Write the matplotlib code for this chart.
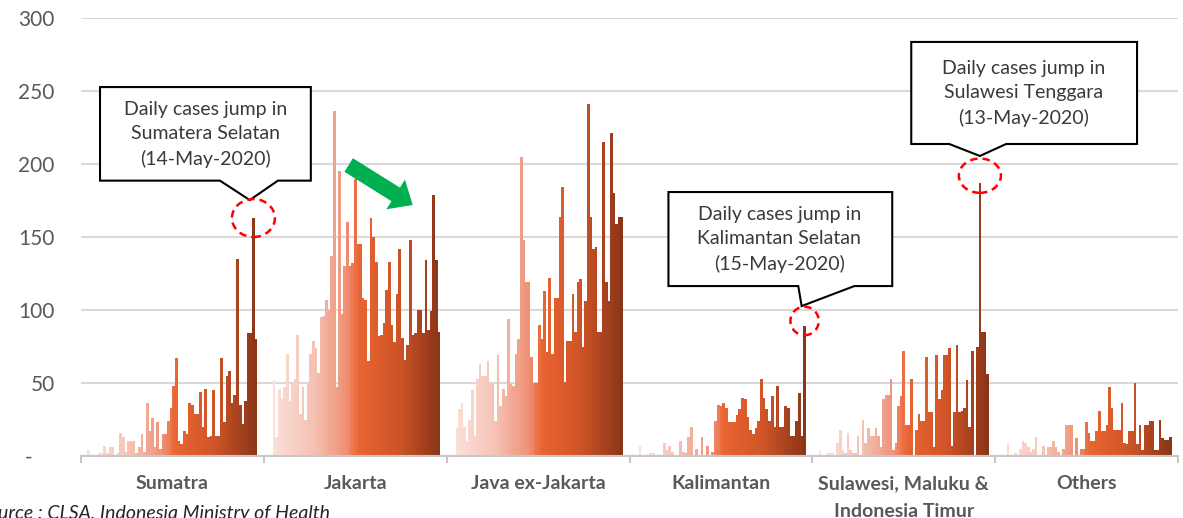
import numpy as np
import matplotlib.pyplot as plt
from matplotlib.colors import LinearSegmentedColormap
from matplotlib.patches import Ellipse, Polygon, FancyArrowPatch, ArrowStyle

plt.rcParams['font.family'] = ['Lato', 'DejaVu Sans']

# daily new cases per region
regions = ['Sumatra', 'Jakarta', 'Java ex-Jakarta', 'Kalimantan',
           'Sulawesi, Maluku &\nIndonesia Timur', 'Others']

sumatra = [4, 0, 0, 0, 2, 2, 7, 2, 6, 6, 1, 2, 16, 13, 3, 10, 10, 10, 2, 6,
           15, 3, 36, 17, 26, 6, 23, 5, 15, 15, 24, 33, 48, 67, 10, 8, 17, 15, 36, 35,
           29, 29, 44, 20, 46, 13, 14, 45, 14, 14, 67, 23, 55, 58, 36, 42, 135, 35, 22, 38,
           84, 84, 163, 80]
jakarta = [0, 52, 13, 46, 39, 47, 70, 38, 49, 53, 83, 29, 47, 25, 49, 70, 79, 74, 57, 95,
           96, 107, 100, 137, 236, 47, 195, 97, 130, 160, 130, 132, 190, 145, 145, 108, 107, 65, 163, 150,
           133, 82, 83, 91, 114, 133, 90, 78, 111, 142, 81, 66, 76, 148, 83, 84, 100, 100, 84, 134,
           86, 99, 179, 134, 85]
java = [0, 19, 32, 36, 20, 10, 25, 45, 14, 53, 63, 55, 55, 65, 50, 50, 24, 69, 34, 46,
        41, 94, 49, 48, 70, 80, 205, 148, 119, 119, 68, 50, 50, 90, 80, 113, 71, 122, 70, 108,
        108, 164, 184, 51, 79, 79, 111, 85, 119, 121, 75, 106, 241, 164, 142, 143, 85, 85, 215, 119,
        106, 221, 180, 159, 164, 164]
kalimantan = [0, 7, 0, 0, 1, 2, 2, 1, 0, 0, 9, 4, 7, 3, 1, 0, 10, 3, 2, 13,
              20, 1, 5, 1, 13, 1, 7, 1, 3, 24, 35, 34, 36, 33, 23, 23, 23, 28, 32, 40,
              39, 27, 18, 15, 19, 24, 53, 40, 32, 24, 41, 20, 48, 20, 20, 34, 33, 14, 14, 24,
              43, 14, 89]
sulawesi = [4, 0, 0, 2, 2, 2, 0, 9, 18, 4, 2, 16, 4, 2, 2, 14, 0, 25, 9, 19,
            14, 14, 19, 14, 6, 39, 42, 42, 53, 4, 9, 34, 41, 72, 21, 21, 53, 0, 18, 29,
            24, 24, 68, 30, 30, 6, 69, 39, 45, 69, 69, 74, 7, 30, 76, 30, 31, 33, 52, 20,
            72, 0, 75, 187, 85, 85, 56]
others = [0, 0, 9, 1, 1, 2, 1, 5, 10, 9, 6, 3, 5, 13, 0, 1, 7, 1, 6, 6,
          10, 6, 3, 1, 5, 21, 21, 21, 1, 12, 0, 5, 5, 23, 16, 10, 10, 17, 31, 17,
          17, 21, 47, 33, 18, 18, 18, 36, 9, 8, 17, 17, 50, 8, 21, 4, 21, 21, 24, 24,
          4, 4, 25, 12, 11, 11, 13]
daily = [sumatra, jakarta, java, kalimantan, sulawesi, others]

yticks = [0, 50, 100, 150, 200, 250, 300]
ytick_labels = ['-    ', '50', '100', '150', '200', '250', '300']

callout_texts = ['Daily cases jump in\nSumatera Selatan\n(14-May-2020)',
                 'Daily cases jump in\nKalimantan Selatan\n(15-May-2020)',
                 'Daily cases jump in\nSulawesi Tenggara\n(13-May-2020)']
callout_groups = [0, 3, 4]

cmap = LinearSegmentedColormap.from_list('grad', [
    (0.0, '#fbe2db'), (0.25, '#f5c2b4'), (0.45, '#ef8f74'),
    (0.52, '#ea6431'), (0.75, '#cf5427'), (1.0, '#8a3418')])

fig = plt.figure(figsize=(11.83, 5.18), dpi=100)
ax = fig.add_axes([81 / 1183, 62 / 518, 1097 / 1183, 438 / 518])

pad = 0.035
peaks = []
for g, vals in enumerate(daily):
    n = len(vals)
    w = (1 - 2 * pad) / n
    idx = np.arange(n)
    x = g + pad + (idx + 0.5) * w
    ax.bar(x, vals, width=w * 1.02, color=cmap((idx + 0.5) / n), linewidth=0, zorder=2)
    k = int(np.argmax(vals))
    peaks.append((x[k], vals[k]))

ax.set_xlim(0, 6)
ax.set_ylim(0, 300)
ax.set_yticks(yticks)
ax.set_yticklabels(ytick_labels, fontsize=15, color='#595959')
ax.tick_params(axis='y', length=0, pad=19)
ax.yaxis.grid(True, color='#d9d9d9', linewidth=1.5)
ax.set_axisbelow(True)
for s in ['left', 'right', 'top']:
    ax.spines[s].set_visible(False)
ax.spines['bottom'].set_color('#c8c8c8')
ax.spines['bottom'].set_linewidth(1.5)

ax.set_xticks(np.arange(7))
ax.set_xticklabels([])
ax.tick_params(axis='x', which='major', length=5, width=1.5, color='#c8c8c8', direction='out')
ax.set_xticks(np.arange(6) + 0.5, minor=True)
ax.set_xticklabels(regions, minor=True, fontsize=14, fontweight='bold', color='#595959',
                   linespacing=1.75)
ax.tick_params(axis='x', which='minor', length=0, pad=14)

# callout boxes: left, right, top, bottom, notch left, notch right, apex y, text x
boxes = [(0.104, 1.257, 252.7, 188.6, 0.760, 1.077, 175.3, 0.683),
         (3.213, 4.437, 180.8, 116.4, 3.923, 4.230, 102.7, 3.820),
         (4.541, 5.776, 283.6, 213.7, 4.749, 5.060, 205.5, 5.153)]
ell_sizes = [(0.235, 26, 0), (0.155, 19.5, 3.5), (0.23, 23.5, 5)]
apex_shift = [-0.02, -0.016, 0.0]

for (L, R, T, B, n1, n2, ay, tx), txt, g, (ew, eh, dy), sh in zip(
        boxes, callout_texts, callout_groups, ell_sizes, apex_shift):
    px, pv = peaks[g]
    poly = Polygon([(L, T), (R, T), (R, B), (n2, B), (px + sh, ay), (n1, B), (L, B)],
                   closed=True, facecolor='white', edgecolor='black', linewidth=1.5, zorder=5)
    ax.add_patch(poly)
    ax.text(tx, (T + B) / 2 - 0.5, txt, ha='center', va='center', fontsize=14, color='#3a3a3a',
            linespacing=1.5, zorder=6)
    ell = Ellipse((px, pv + dy), ew, eh, fill=False, edgecolor='#ff0000', linewidth=1.8,
                  linestyle=(0, (3, 2)), zorder=6)
    ax.add_patch(ell)

# green arrow over Jakarta
arr = FancyArrowPatch((1.464, 199.3), (1.814, 171.9),
                      arrowstyle=ArrowStyle('simple', head_length=0.4, head_width=0.7, tail_width=0.32),
                      mutation_scale=36, color='#00b050', linewidth=0, shrinkA=0, shrinkB=0, zorder=6)
ax.add_patch(arr)

fig.text(-0.019, 0.026, 'Source : CLSA, Indonesia Ministry of Health', fontsize=14,
         style='italic', color='#262626', va='top', ha='left')

fig.savefig('out.png', dpi=100)
